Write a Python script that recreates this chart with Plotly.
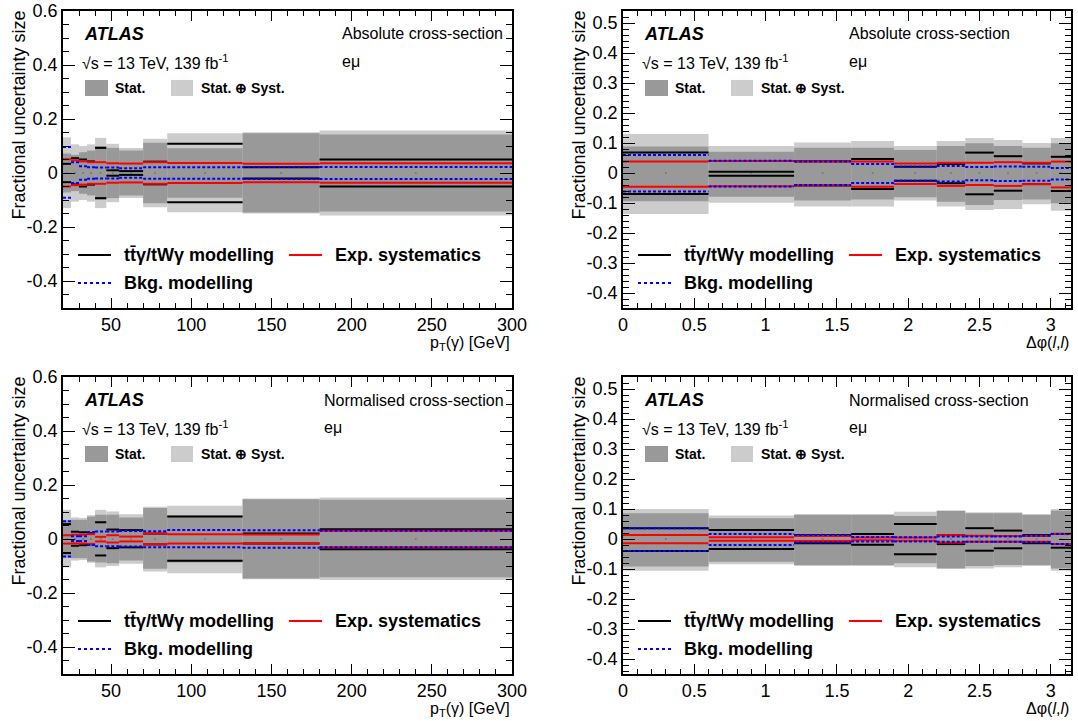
import math
import plotly.graph_objects as go

# ---------------- data ----------------
pt_edges = [20, 25, 30, 35, 40, 47, 55, 70, 85, 132, 180, 300]
dphi_edges = [0, 0.6, 1.2, 1.6, 1.9, 2.2, 2.4, 2.6, 2.8, 3.0, math.pi]

# Absolute, pT(gamma)
abs_pt_tot_up = [0.132, 0.106, 0.100, 0.106, 0.130, 0.108, 0.093, 0.127, 0.147, 0.151, 0.157]
abs_pt_tot_dn = [-0.130, -0.106, -0.100, -0.106, -0.130, -0.108, -0.093, -0.127, -0.145, -0.150, -0.157]
abs_pt_stat_up = [0.072, 0.067, 0.077, 0.083, 0.100, 0.093, 0.083, 0.112, 0.092, 0.147, 0.143]
abs_pt_stat_dn = [-0.072, -0.067, -0.077, -0.083, -0.100, -0.093, -0.083, -0.112, -0.092, -0.146, -0.143]
abs_pt_tt_up = [0.034, 0.055, 0.050, 0.043, 0.093, 0.010, 0.007, 0.042, 0.108, 0.021, 0.050]
abs_pt_tt_dn = [-0.034, -0.042, -0.050, -0.043, -0.093, -0.010, -0.007, -0.042, -0.108, -0.020, -0.050]
abs_pt_exp_up = [0.051, 0.047, 0.043, 0.040, 0.040, 0.036, 0.035, 0.040, 0.037, 0.034, 0.036]
abs_pt_exp_dn = [-0.050, -0.045, -0.043, -0.040, -0.040, -0.036, -0.035, -0.040, -0.037, -0.034, -0.036]
abs_pt_bkg_up = [0.096, 0.040, 0.025, 0.021, 0.020, 0.020, 0.018, 0.021, 0.021, 0.022, 0.022]
abs_pt_bkg_dn = [-0.092, -0.037, -0.025, -0.021, -0.020, -0.020, -0.018, -0.021, -0.021, -0.022, -0.022]

# Absolute, dphi(l,l)
abs_dp_tot_up = [0.130, 0.090, 0.102, 0.107, 0.090, 0.107, 0.117, 0.110, 0.100, 0.117]
abs_dp_tot_dn = [-0.137, -0.099, -0.112, -0.112, -0.092, -0.112, -0.123, -0.120, -0.104, -0.126]
abs_dp_stat_up = [0.088, 0.071, 0.084, 0.084, 0.077, 0.090, 0.099, 0.090, 0.084, 0.099]
abs_dp_stat_dn = [-0.094, -0.079, -0.092, -0.088, -0.081, -0.096, -0.107, -0.090, -0.088, -0.101]
abs_dp_tt_up = [0.068, 0.004, 0.039, 0.047, 0.021, 0.030, 0.068, 0.056, 0.032, 0.054]
abs_dp_tt_dn = [-0.070, -0.009, -0.042, -0.053, -0.026, -0.034, -0.071, -0.059, -0.037, -0.060]
abs_dp_exp_up = [0.038, 0.040, 0.038, 0.038, 0.032, 0.034, 0.034, 0.036, 0.034, 0.038]
abs_dp_exp_dn = [-0.046, -0.044, -0.041, -0.046, -0.037, -0.043, -0.040, -0.043, -0.037, -0.048]
abs_dp_bkg_up = [0.060, 0.041, 0.038, 0.030, 0.021, 0.023, 0.020, 0.022, 0.021, 0.017]
abs_dp_bkg_dn = [-0.062, -0.045, -0.040, -0.033, -0.026, -0.028, -0.024, -0.027, -0.026, -0.022]

# Normalised, pT(gamma)
nrm_pt_tot_up = [0.108, 0.080, 0.078, 0.088, 0.108, 0.102, 0.092, 0.119, 0.123, 0.150, 0.154]
nrm_pt_tot_dn = [-0.105, -0.080, -0.078, -0.088, -0.105, -0.100, -0.092, -0.120, -0.127, -0.149, -0.152]
nrm_pt_stat_up = [0.070, 0.071, 0.071, 0.083, 0.090, 0.090, 0.080, 0.115, 0.087, 0.147, 0.145]
nrm_pt_stat_dn = [-0.070, -0.071, -0.071, -0.083, -0.087, -0.090, -0.080, -0.110, -0.087, -0.146, -0.142]
nrm_pt_tt_up = [0.055, 0.027, 0.025, 0.022, 0.062, 0.035, 0.033, 0.020, 0.083, 0.020, 0.036]
nrm_pt_tt_dn = [-0.052, -0.025, -0.023, -0.020, -0.061, -0.034, -0.031, -0.020, -0.081, -0.017, -0.038]
nrm_pt_exp_up = [0.014, 0.016, 0.016, 0.018, 0.008, 0.014, 0.009, 0.020, 0.018, 0.017, 0.031]
nrm_pt_exp_dn = [-0.017, -0.016, -0.016, -0.018, -0.009, -0.013, -0.009, -0.019, -0.017, -0.017, -0.031]
nrm_pt_bkg_up = [0.066, 0.010, 0.010, 0.026, 0.028, 0.028, 0.030, 0.029, 0.033, 0.032, 0.031]
nrm_pt_bkg_dn = [-0.065, -0.007, -0.007, -0.022, -0.027, -0.027, -0.028, -0.031, -0.031, -0.032, -0.031]

# Normalised, dphi(l,l)
nrm_dp_tot_up = [0.100, 0.078, 0.083, 0.083, 0.091, 0.094, 0.089, 0.089, 0.083, 0.100]
nrm_dp_tot_dn = [-0.106, -0.084, -0.090, -0.090, -0.094, -0.098, -0.098, -0.094, -0.090, -0.106]
nrm_dp_stat_up = [0.086, 0.069, 0.080, 0.080, 0.077, 0.094, 0.086, 0.086, 0.080, 0.094]
nrm_dp_stat_dn = [-0.092, -0.076, -0.087, -0.087, -0.081, -0.098, -0.090, -0.087, -0.087, -0.098]
nrm_dp_tt_up = [0.036, 0.030, 0.013, 0.017, 0.050, 0.013, 0.036, 0.028, 0.013, 0.017]
nrm_dp_tt_dn = [-0.040, -0.033, -0.014, -0.019, -0.051, -0.017, -0.039, -0.031, -0.014, -0.029]
nrm_dp_exp_up = [0.013, 0.006, 0.010, 0.005, 0.005, 0.013, 0.011, 0.010, 0.010, 0.017]
nrm_dp_exp_dn = [-0.014, -0.006, -0.007, -0.004, -0.006, -0.012, -0.009, -0.009, -0.009, -0.017]
nrm_dp_bkg_up = [0.036, 0.017, 0.013, 0.007, 0.006, 0.008, 0.008, 0.008, 0.011, 0.017]
nrm_dp_bkg_dn = [-0.040, -0.020, -0.012, -0.008, -0.008, -0.009, -0.009, -0.009, -0.011, -0.017]

# tick labels
pt_ticks = [50, 100, 150, 200, 250, 300]
dp_ticks = [0, 0.5, 1, 1.5, 2, 2.5, 3]
left_yticks = [-0.4, -0.2, 0, 0.2, 0.4, 0.6]
left_yticktext = ["-0.4", "-0.2", "0", "0.2", "0.4", "0.6"]
right_yticks = [-0.4, -0.3, -0.2, -0.1, 0, 0.1, 0.2, 0.3, 0.4, 0.5]
right_yticktext = ["-0.4", "-0.3", "-0.2", "-0.1", "0", "0.1", "0.2", "0.3", "0.4", "0.5"]

# ---------------- figure ----------------
W, H = 1078, 721
FONT = "Liberation Sans, Arial, Helvetica, sans-serif"
LIGHT = "#cccccc"
DARK = "#999999"


def fx(x):
    return x / W


def fy(y):
    return 1 - y / H


fig = go.Figure()

panels = [
    ("", pt_edges, (abs_pt_tot_up, abs_pt_tot_dn, abs_pt_stat_up, abs_pt_stat_dn, abs_pt_tt_up, abs_pt_tt_dn,
                    abs_pt_exp_up, abs_pt_exp_dn, abs_pt_bkg_up, abs_pt_bkg_dn), "left", (63, 512, 11, 308)),
    ("2", dphi_edges, (abs_dp_tot_up, abs_dp_tot_dn, abs_dp_stat_up, abs_dp_stat_dn, abs_dp_tt_up, abs_dp_tt_dn,
                       abs_dp_exp_up, abs_dp_exp_dn, abs_dp_bkg_up, abs_dp_bkg_dn), "right", (623, 1071, 11, 308)),
    ("3", pt_edges, (nrm_pt_tot_up, nrm_pt_tot_dn, nrm_pt_stat_up, nrm_pt_stat_dn, nrm_pt_tt_up, nrm_pt_tt_dn,
                     nrm_pt_exp_up, nrm_pt_exp_dn, nrm_pt_bkg_up, nrm_pt_bkg_dn), "left", (63, 512, 377, 674)),
    ("4", dphi_edges, (nrm_dp_tot_up, nrm_dp_tot_dn, nrm_dp_stat_up, nrm_dp_stat_dn, nrm_dp_tt_up, nrm_dp_tt_dn,
                       nrm_dp_exp_up, nrm_dp_exp_dn, nrm_dp_bkg_up, nrm_dp_bkg_dn), "right", (623, 1071, 377, 674)),
]


def segments(edges, vals):
    xs, ys = [], []
    for i, v in enumerate(vals):
        xs += [edges[i], edges[i + 1], None]
        ys += [v, v, None]
    return xs, ys


layout_axes = {}
for suffix, edges, data, side, frame in panels:
    tot_up, tot_dn, st_up, st_dn, tt_up, tt_dn, ex_up, ex_dn, bk_up, bk_dn = data
    xa = "x" + suffix
    ya = "y" + suffix
    centers = [(edges[i] + edges[i + 1]) / 2 for i in range(len(edges) - 1)]
    widths = [edges[i + 1] - edges[i] for i in range(len(edges) - 1)]
    fig.add_trace(go.Bar(x=centers, y=[u - d for u, d in zip(tot_up, tot_dn)], base=tot_dn, width=widths,
                         marker=dict(color=LIGHT, line=dict(width=0)), xaxis=xa, yaxis=ya, showlegend=False))
    fig.add_trace(go.Bar(x=centers, y=[u - d for u, d in zip(st_up, st_dn)], base=st_dn, width=widths,
                         marker=dict(color=DARK, line=dict(width=0)), xaxis=xa, yaxis=ya, showlegend=False))
    fig.add_trace(go.Scatter(x=centers, y=[0] * len(centers), mode="markers",
                             marker=dict(size=2, color="#777777"), xaxis=xa, yaxis=ya, showlegend=False))
    for up, dn, color, dash in [(tt_up, tt_dn, "black", "solid"), (ex_up, ex_dn, "#ff0000", "solid"),
                                (bk_up, bk_dn, "#0000ff", "3px,2px")]:
        for vals in (up, dn):
            xs, ys = segments(edges, vals)
            fig.add_trace(go.Scatter(x=xs, y=ys, mode="lines", line=dict(color=color, width=2, dash=dash),
                                     xaxis=xa, yaxis=ya, showlegend=False))

    x0, x1, y0, y1 = frame
    common = dict(showline=True, linecolor="black", linewidth=1.5, mirror="allticks", ticks="inside",
                  tickcolor="black", tickwidth=1, showgrid=False, zeroline=False, automargin=False,
                  tickfont=dict(family=FONT, size=18, color="black"), layer="above traces")
    if side == "left":
        xaxis = dict(range=[20, 300], domain=[fx(x0), fx(x1)], tickvals=pt_ticks, ticklen=10,
                     minor=dict(dtick=10, tick0=0, ticklen=5, ticks="inside", tickcolor="black", showgrid=False),
                     **common)
        yaxis = dict(range=[-0.5, 0.6], domain=[fy(y1), fy(y0)], tickvals=left_yticks, ticktext=left_yticktext,
                     ticklen=12,
                     minor=dict(dtick=0.05, tick0=0, ticklen=6, ticks="inside", tickcolor="black", showgrid=False),
                     **common)
    else:
        xaxis = dict(range=[0, math.pi], domain=[fx(x0), fx(x1)], tickvals=dp_ticks, ticklen=10,
                     minor=dict(dtick=0.1, tick0=0, ticklen=5, ticks="inside", tickcolor="black", showgrid=False),
                     **common)
        yaxis = dict(range=[-0.45, 0.54], domain=[fy(y1), fy(y0)], tickvals=right_yticks,
                     ticktext=right_yticktext, ticklen=12,
                     minor=dict(dtick=0.02, tick0=0, ticklen=6, ticks="inside", tickcolor="black", showgrid=False),
                     **common)
    xaxis["anchor"] = ya
    yaxis["anchor"] = xa
    layout_axes["xaxis" + suffix] = xaxis
    layout_axes["yaxis" + suffix] = yaxis

annotations = []
shapes = []


def text(x, y, s, size=16, xanchor="left", yanchor="middle", angle=0):
    annotations.append(dict(x=fx(x), y=fy(y), xref="paper", yref="paper", text=s, showarrow=False,
                            xanchor=xanchor, yanchor=yanchor, textangle=angle,
                            font=dict(family=FONT, size=size, color="black")))


panel_text = [
    (0, 0, 340, "Absolute cross-section", "p<sub>T</sub>(γ) [GeV]", 512),
    (560, 0, 847, "Absolute cross-section", "Δφ(<i>l</i>,<i>l</i>)", 1071),
    (0, 366, 322, "Normalised cross-section", "p<sub>T</sub>(γ) [GeV]", 512),
    (560, 366, 847, "Normalised cross-section", "Δφ(<i>l</i>,<i>l</i>)", 1071),
]
for dx, dy, lx, label, xtitle, xr in panel_text:
    text(82 + dx, 34 + dy, "<b><i>ATLAS</i></b>", size=18)
    text(80 + dx, 62 + dy, "√s = 13 TeV, 139 fb<sup>-1</sup>", size=16)
    text(lx, 34 + dy, label, size=16)
    text(lx, 62 + dy, "eμ", size=16)
    shapes.append(dict(type="rect", xref="paper", yref="paper", x0=fx(85 + dx), x1=fx(108 + dx),
                       y0=fy(96 + dy), y1=fy(80 + dy), fillcolor=DARK, line=dict(width=0)))
    text(113 + dx, 88 + dy, "<b>Stat.</b>", size=14)
    shapes.append(dict(type="rect", xref="paper", yref="paper", x0=fx(171 + dx), x1=fx(193 + dx),
                       y0=fy(96 + dy), y1=fy(80 + dy), fillcolor=LIGHT, line=dict(width=0)))
    text(199 + dx, 88 + dy, "<b>Stat. ⊕ Syst.</b>", size=14)
    shapes.append(dict(type="line", xref="paper", yref="paper", x0=fx(78 + dx), x1=fx(111 + dx),
                       y0=fy(255 + dy), y1=fy(255 + dy), line=dict(color="black", width=2)))
    text(122 + dx, 255 + dy, "<b>tt̄γ/tWγ modelling</b>", size=18)
    shapes.append(dict(type="line", xref="paper", yref="paper", x0=fx(289 + dx), x1=fx(322 + dx),
                       y0=fy(255 + dy), y1=fy(255 + dy), line=dict(color="#ff0000", width=2)))
    text(333 + dx, 255 + dy, "<b>Exp. systematics</b>", size=18)
    shapes.append(dict(type="line", xref="paper", yref="paper", x0=fx(78 + dx), x1=fx(111 + dx),
                       y0=fy(283 + dy), y1=fy(283 + dy), line=dict(color="#0000ff", width=2, dash="dot")))
    text(122 + dx, 283 + dy, "<b>Bkg. modelling</b>", size=18)
    text(18 + dx, 9 + dy, "Fractional uncertainty size", size=18, xanchor="center", yanchor="top", angle=-90)
    text(xr, 332 + dy, xtitle, size=16, xanchor="right", yanchor="top")

fig.update_layout(width=W, height=H, margin=dict(l=0, r=0, t=0, b=0, pad=0, autoexpand=False),
                  paper_bgcolor="white", plot_bgcolor="rgba(0,0,0,0)", barmode="overlay", showlegend=False,
                  annotations=annotations, shapes=shapes, **layout_axes)

fig.write_html("out.html", config={"displayModeBar": False},
               post_script="document.body.style.margin='0px';document.body.style.overflow='hidden';")
